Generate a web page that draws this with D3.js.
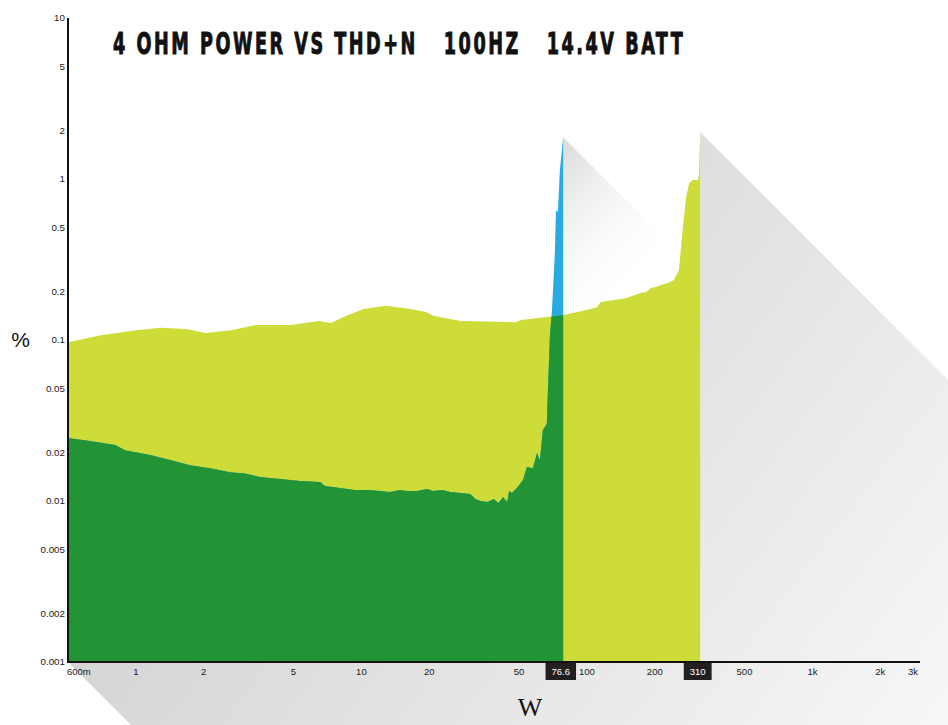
<!DOCTYPE html>
<html><head><meta charset="utf-8">
<script src="https://cdn.jsdelivr.net/npm/d3@7"></script>
<style>html,body{margin:0;padding:0;background:#fff;} svg{display:block;}</style>
</head><body>
<svg id="chart" width="948" height="725"></svg>
<script>
// ---------- data ----------
const titleText = "4 OHM POWER VS THD+N   100HZ   14.4V BATT";
const xLabel = "W";
const yLabel = "%";

const xTickValues = [0.6, 1, 2, 5, 10, 20, 50, 100, 200, 500, 1000, 2000, 3000];
const xTickLabels = ["600m", "1", "2", "5", "10", "20", "50", "100", "200", "500", "1k", "2k", "3k"];
const yTickValues = [0.001, 0.002, 0.005, 0.01, 0.02, 0.05, 0.1, 0.2, 0.5, 1, 2, 5, 10];
const yTickLabels = ["0.001", "0.002", "0.005", "0.01", "0.02", "0.05", "0.1", "0.2", "0.5", "1", "2", "5", "10"];
const ratedValues = [76.6, 310];
const ratedLabels = ["76.6", "310"];

// 310 W curve (yellow)
const yellowW   = [0.5, 0.7, 1.0, 1.29, 1.67, 2.04, 2.64, 3.41, 4.87, 6.48, 7.32, 8.54, 10.2, 12.8, 16.6, 19.3, 21.0, 27.6, 48.4, 51, 79, 94, 111, 115, 149, 173, 183, 192, 202, 213, 229, 243, 256, 267, 275, 284, 295, 311, 314, 318];
const yellowPct = [0.097, 0.107, 0.115, 0.119, 0.117, 0.1105, 0.115, 0.124, 0.124, 0.131, 0.1275, 0.141, 0.156, 0.163, 0.156, 0.149, 0.141, 0.131, 0.129, 0.133, 0.143, 0.151, 0.160, 0.172, 0.182, 0.196, 0.199, 0.2105, 0.2135, 0.2196, 0.226, 0.236, 0.272, 0.518, 0.762, 0.944, 0.987, 0.987, 1.06, 1.96];

// 76.6 W curve (blue / green)
const blueW   = [0.5, 0.627, 0.81, 0.896, 1.157, 1.42, 1.74, 2.13, 2.62, 3.05, 3.55, 4.37, 5.35, 6.56, 6.9, 8.05, 9.35, 10.9, 12.1, 13.4, 14.8, 15.9, 17.6, 19.6, 20.8, 22.9, 24.8, 27.5, 30.4, 32, 33.7, 36.3, 38.6, 40.5, 42.5, 44.3, 45.2, 46.5, 48.9, 52.1, 54.2, 57.6, 60.1, 61.9, 63.8, 66.4, 67.1, 68.5, 69.9, 72.1, 72.9, 74.4, 75.9, 78.5];
const bluePct = [0.0246, 0.0236, 0.0223, 0.0207, 0.0193, 0.018, 0.0167, 0.016, 0.0151, 0.0148, 0.0141, 0.0137, 0.0133, 0.0131, 0.0124, 0.01204, 0.0117, 0.0117, 0.01153, 0.01138, 0.0117, 0.01153, 0.01153, 0.01187, 0.01153, 0.0117, 0.01138, 0.0112, 0.01105, 0.01029, 0.0100, 0.00986, 0.01029, 0.00972, 0.01059, 0.00986, 0.01153, 0.0112, 0.01204, 0.0135, 0.01626, 0.0160, 0.01987, 0.018, 0.0276, 0.0301, 0.0469, 0.1044, 0.147, 0.347, 0.642, 0.624, 1.137, 1.82];

// ---------- chart ----------
const W = 948, H = 725;
const svg = d3.select("#chart");
const x = d3.scaleLog().domain([0.5, 3000]).range([68, 920]);
const y = d3.scaleLog().domain([0.001, 10]).range([662, 18]);
const x0 = x.range()[0], y0 = y.range()[0];

const defs = svg.append("defs");
const g1 = defs.append("linearGradient").attr("id", "shadowGrad")
  .attr("gradientUnits", "userSpaceOnUse").attr("x1", 0).attr("y1", 0).attr("x2", W).attr("y2", H);
g1.append("stop").attr("offset", 0.4).attr("stop-color", "#d6d6d6");
g1.append("stop").attr("offset", 1).attr("stop-color", "#f7f7f7");

const yellowData = yellowW.map((w, i) => [w, yellowPct[i]]);
const blueData = blueW.map((w, i) => [w, bluePct[i]]);

// long shadow from the 310 W peak and x axis
const P = [x(yellowW[yellowW.length - 1]), y(d3.max(yellowPct))];
const slope = 1;
const bigShadow = [P, [W, P[1] + (W - P[0]) * slope], [W, H], [x0 + (H - y0) / slope, H], [x0, y0], [P[0], y0]];
svg.append("path").attr("d", "M" + bigShadow.join("L") + "Z").attr("fill", "url(#shadowGrad)");

// faded shadow from the 76.6 W spike
const Q = [x(blueW[blueW.length - 1]), y(d3.max(bluePct))];
const g2 = defs.append("linearGradient").attr("id", "spikeGrad")
  .attr("gradientUnits", "userSpaceOnUse").attr("x1", Q[0]).attr("y1", Q[1]).attr("x2", Q[0] + 115).attr("y2", Q[1] + 115);
g2.append("stop").attr("offset", 0).attr("stop-color", "#dadada").attr("stop-opacity", 1);
g2.append("stop").attr("offset", 1).attr("stop-color", "#ffffff").attr("stop-opacity", 0);
const spikeShadow = [Q, [Q[0] + 400, Q[1] + 400 * slope], [Q[0], y0]];
svg.append("path").attr("d", "M" + spikeShadow.join("L") + "Z").attr("fill", "url(#spikeGrad)");

const area = d3.area().x(d => x(d[0])).y0(y0).y1(d => y(d[1]));

svg.append("path").attr("d", area(yellowData)).attr("fill", "#cddc39");
defs.append("clipPath").attr("id", "yellowClip").append("path").attr("d", area(yellowData));
svg.append("path").attr("d", area(blueData)).attr("fill", "#29abe2");
svg.append("path").attr("d", area(blueData)).attr("fill", "#229436").attr("clip-path", "url(#yellowClip)");

// axes
svg.append("line").attr("x1", x0).attr("x2", x0).attr("y1", y.range()[1]).attr("y2", y0 + 1)
  .attr("stroke", "#111").attr("stroke-width", 2);
svg.append("line").attr("x1", x0 - 1).attr("x2", x.range()[1]).attr("y1", y0).attr("y2", y0)
  .attr("stroke", "#111").attr("stroke-width", 2);

const lblFont = "'Liberation Sans', Arial, sans-serif";
svg.append("g").selectAll("text").data(yTickValues).join("text")
  .attr("x", x0 - 3).attr("y", d => y(d)).attr("dy", "0.35em")
  .attr("text-anchor", "end").attr("font-family", lblFont).attr("font-size", 9.8).attr("fill", "#1a1a1a")
  .text((d, i) => yTickLabels[i]);

const nX = xTickValues.length;
svg.append("g").selectAll("text").data(xTickValues).join("text")
  .attr("y", y0 + 13)
  .attr("x", (d, i) => i === 0 ? x0 - 1 : (i === nX - 1 ? x.range()[1] - 2 : x(d)))
  .attr("text-anchor", (d, i) => i === 0 ? "start" : (i === nX - 1 ? "end" : "middle"))
  .attr("font-family", lblFont).attr("font-size", 9.5).attr("fill", "#1a1a1a")
  .text((d, i) => xTickLabels[i]);

ratedValues.forEach((v, i) => {
  const g = svg.append("g");
  const t = g.append("text").attr("x", x(v)).attr("y", y0 + 13).attr("text-anchor", "middle")
    .attr("font-family", lblFont).attr("font-size", 9.5).attr("fill", "#fff").text(ratedLabels[i]);
  const w = t.node().getComputedTextLength();
  g.insert("rect", "text").attr("x", x(v) - w / 2 - 6).attr("y", y0 + 1).attr("width", w + 12).attr("height", 17).attr("fill", "#231f20");
});

svg.append("text").attr("x", 20.5).attr("y", 347).attr("text-anchor", "middle")
  .attr("font-family", lblFont).attr("font-size", 21).attr("fill", "#111").text(yLabel);
svg.append("text").attr("x", 530).attr("y", 716).attr("text-anchor", "middle")
  .attr("font-family", "'Liberation Serif', 'Times New Roman', serif").attr("font-size", 26).attr("fill", "#111").text(xLabel);

// title: condensed, tracked, heavy
const title = svg.append("text").attr("x", 0).attr("y", 0)
  .attr("font-family", "'DejaVu Sans Condensed', 'DejaVu Sans', sans-serif").attr("font-weight", "bold")
  .attr("font-size", 31).attr("fill", "#111").attr("stroke", "#111").attr("stroke-width", 1)
  .style("white-space", "pre")
  .attr("letter-spacing", 4)
  .text(titleText);
const tw = title.node().getBBox().width - 4;
const k = 570 / tw;
title.attr("transform", `translate(113,54) scale(${k},1)`);
</script>
</body></html>
